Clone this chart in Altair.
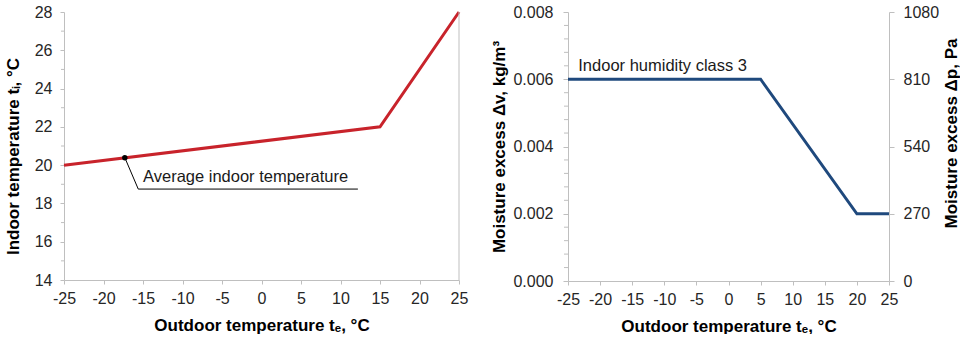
import altair as alt
import pandas as pd

# ---------------- data ----------------
te_in = [-25, 15, 25]
ti = [20, 22, 28]

te_mo = [-25, 5, 20, 25]
dv = [0.006, 0.006, 0.002, 0.002]

x_ticks = [-25, -20, -15, -10, -5, 0, 5, 10, 15, 20, 25]
ti_ticks = [14, 16, 18, 20, 22, 24, 26, 28]
ti_minor = [15, 17, 19, 21, 23, 25, 27]
dv_ticks = [0.0, 0.002, 0.004, 0.006, 0.008]
dv_minor = [0.0004, 0.0008, 0.0012, 0.0016, 0.0024, 0.0028, 0.0032, 0.0036,
            0.0044, 0.0048, 0.0052, 0.0056, 0.0064, 0.0068, 0.0072, 0.0076]
dp_ticks = [0, 270, 540, 810, 1080]
pa_per_kgm3 = 135000  # 1080 Pa / 0.008 kg/m3

ann_x = [-17.3]
ann_y = [20.39]
leader_x = [-17.3, -15.6, 12.2]
leader_y = [20.39, 18.75, 18.75]
ann_text = ["Average indoor temperature"]
ann_tx = [-15.0]
ann_ty = [19.4]

ann2_text = ["Indoor humidity class 3"]
ann2_x = [-23.4]
ann2_y = [0.0064]

# ---------------- style ----------------
FONT = "Liberation Sans"
GRAY = "#BFBFBF"
LABEL = "#262626"
RED = "#C8232B"
BLUE = "#1F497D"
HYPHEN_LABEL = "'' + datum.value"


def axis(**kw):
    d = dict(domainColor=GRAY, tickColor=GRAY, labelColor=LABEL, labelFont=FONT,
             labelFontSize=16, titleFont=FONT, titleFontSize=17, titleFontWeight="bold",
             titleColor="black", grid=False, labelFlush=False, labelOverlap=False,
             tickSize=4)
    d.update(kw)
    return alt.Axis(**d)


xs = alt.Scale(domain=[-25, 25], nice=False)
x_axis = axis(values=x_ticks, title="Outdoor temperature tₑ, °C", labelPadding=6,
              titlePadding=11, labelExpr=HYPHEN_LABEL)

# ---------------- left panel ----------------
ys = alt.Scale(domain=[14, 28], nice=False)
y_axis_in = axis(values=ti_ticks, title="Indoor temperature tᵢ, °C", labelPadding=8,
                 titlePadding=12, titleY=144)


def X(f):
    return alt.X(f, scale=xs, axis=x_axis)


def Yin(f):
    return alt.Y(f, scale=ys, axis=y_axis_in)


df_in = pd.DataFrame({"te": te_in, "ti": ti})

line_in = alt.Chart(df_in).mark_line(color=RED, strokeWidth=3).encode(x=X("te:Q"), y=Yin("ti:Q"))
minor_in = alt.Chart(pd.DataFrame({"v": ti_minor})).mark_rule(color=GRAY).encode(
    y=Yin("v:Q"), x=alt.value(-3), x2=alt.value(0)
)
border_in = alt.Chart(pd.DataFrame({"x": [25]})).mark_rule(color=GRAY).encode(x=X("x:Q"))
leader = alt.Chart(pd.DataFrame({"x": leader_x, "y": leader_y})).mark_line(
    color="black", strokeWidth=1).encode(x=X("x:Q"), y=Yin("y:Q"))
dot = alt.Chart(pd.DataFrame({"x": ann_x, "y": ann_y})).mark_circle(
    color="black", size=30, opacity=1).encode(x=X("x:Q"), y=Yin("y:Q"))
txt_in = alt.Chart(pd.DataFrame({"x": ann_tx, "y": ann_ty, "t": ann_text})).mark_text(
    align="left", baseline="middle", font=FONT, fontSize=16.5, color="#1a1a1a").encode(
    x=X("x:Q"), y=Yin("y:Q"), text="t:N"
)
left = alt.layer(line_in, minor_in, border_in, leader, dot, txt_in).properties(width=395, height=268)

# ---------------- right panel ----------------
yv = alt.Scale(domain=[0, 0.008], nice=False)
yp = alt.Scale(domain=[0, 1080], nice=False)
y_axis_v = axis(values=dv_ticks, format=".3f", orient="left", title="Moisture excess Δv, kg/m³",
                labelPadding=10, titlePadding=4, tickSize=5)
y_axis_p = axis(values=dp_ticks, format="d", orient="right", title="Moisture excess Δp, Pa",
                labelPadding=9, titlePadding=5, tickSize=5, titleAngle=270,
                titleBaseline="top", titleY=121)


def Yv(f):
    return alt.Y(f, scale=yv, axis=y_axis_v)


df_mo = pd.DataFrame({"te": te_mo, "dv": dv})

line_mo = alt.Chart(df_mo).mark_line(color=BLUE, strokeWidth=3).encode(x=X("te:Q"), y=Yv("dv:Q"))
minor_mo = alt.Chart(pd.DataFrame({"v": dv_minor})).mark_rule(color=GRAY).encode(
    y=Yv("v:Q"), x=alt.value(-4), x2=alt.value(0)
)
txt_mo = alt.Chart(pd.DataFrame({"x": ann2_x, "y": ann2_y, "t": ann2_text})).mark_text(
    align="left", baseline="middle", font=FONT, fontSize=16.5, color="#1a1a1a").encode(
    x=X("x:Q"), y=Yv("y:Q"), text="t:N"
)
inner = alt.layer(line_mo, minor_mo, txt_mo)

right_ax = alt.Chart(df_mo).transform_calculate(
    dp=f"datum.dv * {pa_per_kgm3}").mark_line(opacity=0).encode(
    x=X("te:Q"),
    y=alt.Y("dp:Q", scale=yp, axis=y_axis_p),
)
right = alt.layer(inner, right_ax).resolve_scale(y="independent").properties(width=321, height=269)

chart = alt.hconcat(left, right, spacing=22).properties(
    padding={"left": 4, "top": 4, "right": 0, "bottom": 0}
).configure_view(stroke=None)

chart.save("out.html", embed_options={"renderer": "svg", "actions": False})
